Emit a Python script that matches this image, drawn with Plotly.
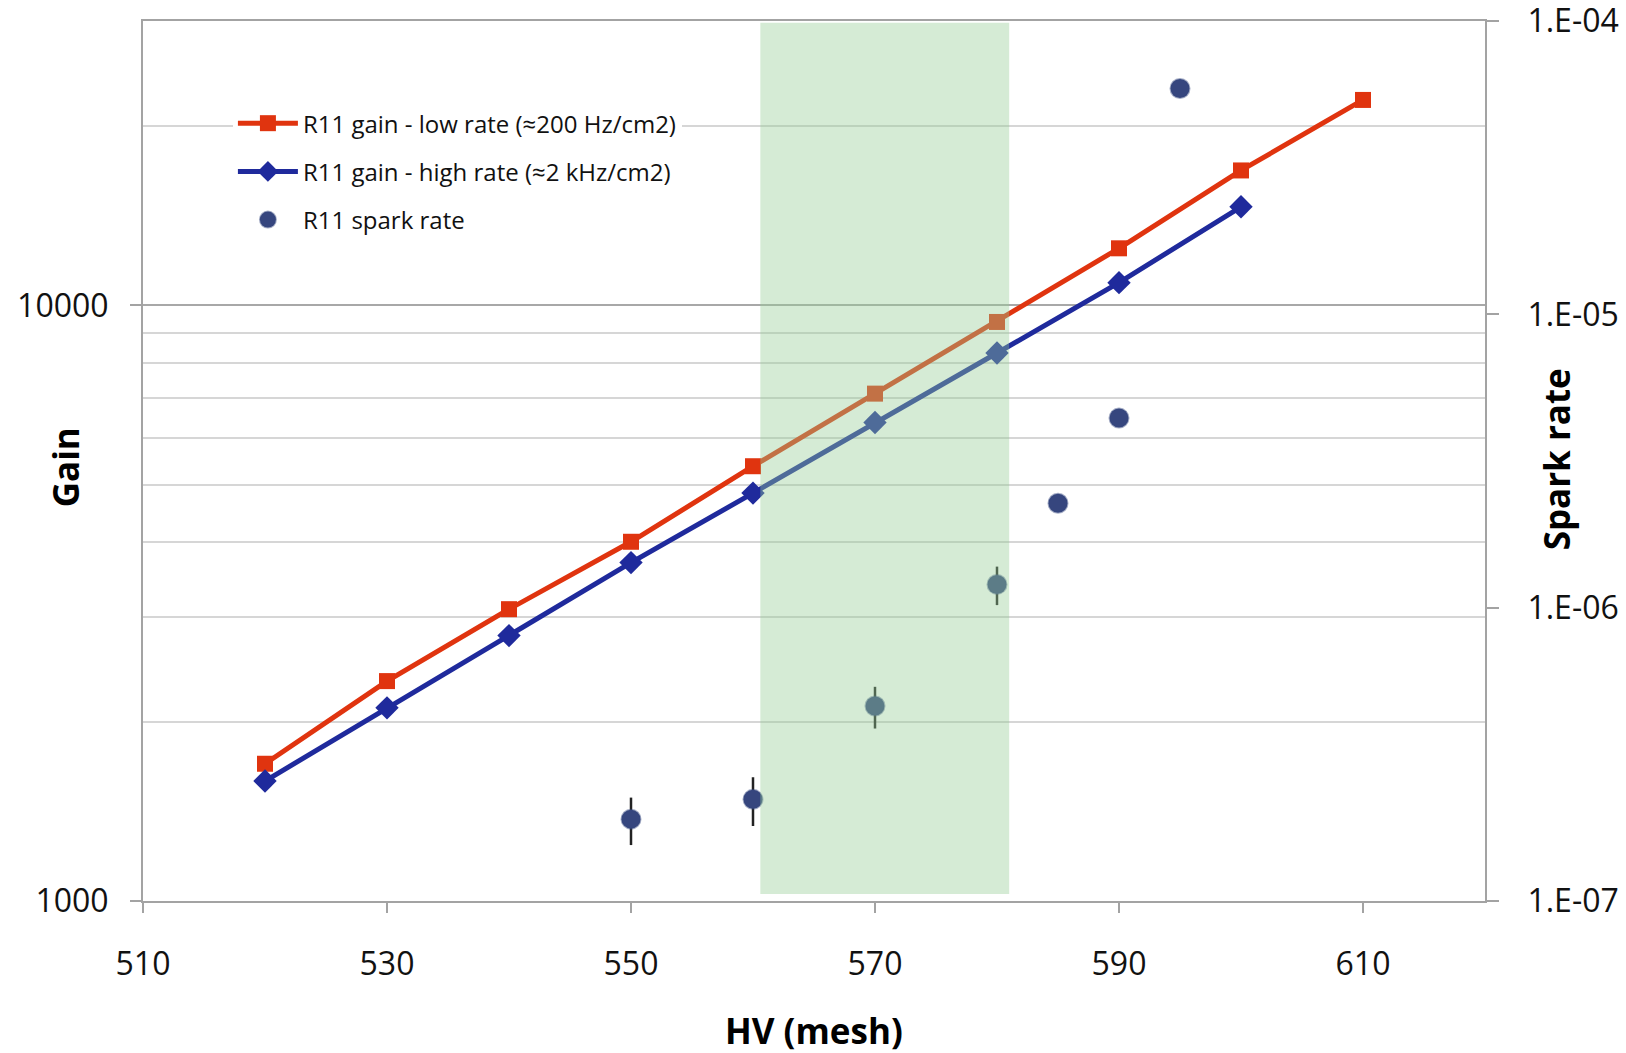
import plotly.graph_objects as go
import math

# ---- data ----
hv_low = [520, 530, 540, 550, 560, 570, 580, 590, 600, 610]
gain_low = [1700, 2340, 3090, 4010, 5370, 7110, 9380, 12470, 16850, 22130]

hv_high = [520, 530, 540, 550, 560, 570, 580, 590, 600]
gain_high = [1590, 2110, 2790, 3700, 4840, 6360, 8320, 10920, 14640]

hv_spark = [550, 560, 570, 580, 585, 590, 595]
spark_rate = [1.90e-7, 2.22e-7, 4.62e-7, 1.20e-6, 2.27e-6, 4.43e-6, 5.89e-5]
spark_err = [0.35e-7, 0.42e-7, 0.75e-7, 0.18e-6, 0, 0, 0]

x_ticks = [510, 530, 550, 570, 590, 610]
gain_ticks = [1000, 10000]
gain_minor = [2000, 3000, 4000, 5000, 6000, 7000, 8000, 9000, 20000, 30000]
spark_ticks = [1e-7, 1e-6, 1e-5, 1e-4]
spark_ticktext = ["1.E-07", "1.E-06", "1.E-05", "1.E-04"]
band = [560.6, 581.0]

FONT = "Open Sans"
AXIS_GRAY = "#a3a3a3"

fig = go.Figure()

fig.add_trace(go.Scatter(
    x=hv_low, y=gain_low, mode="lines+markers",
    name="R11 gain - low rate (\u2248200 Hz/cm2)",
    line=dict(color="#e0340f", width=5),
    marker=dict(symbol="square", size=16, color="#e0340f"),
    legendgroup="a",
))
fig.add_trace(go.Scatter(
    x=hv_high, y=gain_high, mode="lines+markers",
    name="R11 gain - high rate (\u22482 kHz/cm2)",
    line=dict(color="#1f2a9c", width=5),
    marker=dict(symbol="diamond", size=18, color="#1f2a9c"),
    legendgroup="b",
))
fig.add_trace(go.Scatter(
    x=hv_spark, y=spark_rate, mode="markers", yaxis="y2",
    name="R11 spark rate",
    marker=dict(symbol="circle", size=19, color="#36467e",
                line=dict(color="rgba(54,70,126,0.45)", width=2)),
    error_y=dict(type="data", array=spark_err, visible=True,
                 color="#222222", thickness=2.5, width=0),
    legendgroup="c",
))

fig.add_shape(type="rect", xref="x", yref="paper",
              x0=band[0], x1=band[1], y0=0.008, y1=0.998,
              fillcolor="rgba(150,205,150,0.40)", line=dict(width=0),
              layer="above")

fig.update_layout(
    width=1626, height=1053,
    margin=dict(l=143, r=141, t=21, b=152, autoexpand=False),
    paper_bgcolor="white", plot_bgcolor="white",
    font=dict(family=FONT, color="#111111", size=32),
    showlegend=True,
    legend=dict(x=0.067, y=0.909, xanchor="left", yanchor="top",
                bgcolor="white", borderwidth=0,
                font=dict(family=FONT, size=24, color="#111111"),
                traceorder="grouped", tracegroupgap=14, itemwidth=60),
    xaxis=dict(
        range=[510, 620], tickmode="array", tickvals=x_ticks,
        ticks="outside", ticklen=10, tickwidth=2, tickcolor=AXIS_GRAY,
        showline=True, linecolor=AXIS_GRAY, linewidth=2, mirror=True,
        showgrid=False, zeroline=False, automargin=False,
        tickfont=dict(family=FONT, size=32, color="#111111"),
        ticklabelstandoff=24,
    ),
    yaxis=dict(
        type="log", range=[3, math.log10(30000) + 0.0004],
        tickmode="array", tickvals=gain_ticks,
        ticktext=[str(v) for v in gain_ticks],
        ticks="outside", ticklen=11, tickwidth=2, tickcolor=AXIS_GRAY,
        showline=True, linecolor=AXIS_GRAY, linewidth=2,
        showgrid=True, gridcolor="#a8a8a8", gridwidth=1.5,
        minor=dict(tickmode="array", tickvals=gain_minor, ticks="",
                   showgrid=True, gridcolor="#d6d6d6", gridwidth=1.5),
        zeroline=False, automargin=False,
        tickfont=dict(family=FONT, size=32, color="#111111"),
        ticklabelstandoff=15,
        ticklabeloverflow="allow",
    ),
    yaxis2=dict(
        type="log", range=[-7.0004, -3.9996], overlaying="y", side="right",
        tickmode="array", tickvals=spark_ticks, ticktext=spark_ticktext,
        ticks="outside", ticklen=12, tickwidth=2, tickcolor=AXIS_GRAY,
        showline=True, linecolor=AXIS_GRAY, linewidth=2,
        showgrid=False, zeroline=False, automargin=False,
        tickfont=dict(family=FONT, size=32, color="#111111"),
        ticklabelstandoff=22,
        ticklabeloverflow="allow",
    ),
    annotations=[
        dict(text="<b>Gain</b>", xref="paper", yref="paper",
             x=-0.058, y=0.493, xanchor="center", yanchor="middle",
             textangle=-90, showarrow=False,
             font=dict(family=FONT, size=35, color="#000000")),
        dict(text="<b>Spark rate</b>", xref="paper", yref="paper",
             x=1.053, y=0.502, xanchor="center", yanchor="middle",
             textangle=-90, showarrow=False,
             font=dict(family=FONT, size=35, color="#000000")),
        dict(text="<b>HV (mesh)</b>", xref="paper", yref="paper",
             x=0.5, y=-0.1466, xanchor="center", yanchor="middle",
             showarrow=False,
             font=dict(family=FONT, size=35, color="#000000")),
    ],
)

fig.write_html("out.html")
